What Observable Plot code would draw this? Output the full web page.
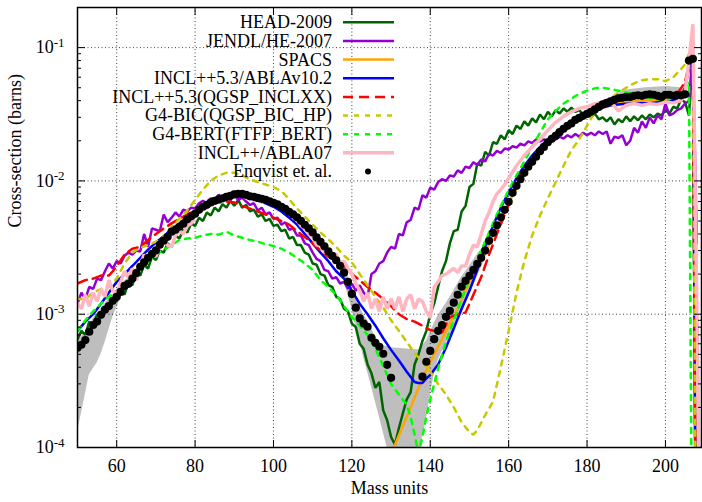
<!DOCTYPE html>
<html><head><meta charset="utf-8">
<script src="https://cdn.jsdelivr.net/npm/d3@7"></script>
<script src="https://cdn.jsdelivr.net/npm/@observablehq/plot@0.6"></script>
<style>
html,body{margin:0;padding:0;background:#fff;}
svg, svg text { font-family: 'Liberation Serif','DejaVu Serif','Times New Roman',serif !important; }
</style></head><body>
<script>
const FONT = "'Liberation Serif','DejaVu Serif','Times New Roman',serif";

// ---- tick values ----
const xTicks = [60, 80, 100, 120, 140, 160, 180, 200];
const yMajor = [1e-4, 1e-3, 1e-2, 1e-1];
const yMinor = [2e-4,3e-4,4e-4,5e-4,6e-4,7e-4,8e-4,9e-4,2e-3,3e-3,4e-3,5e-3,6e-3,7e-3,8e-3,9e-3,2e-2,3e-2,4e-2,5e-2,6e-2,7e-2,8e-2,9e-2];

// ---- Enqvist et al. (one point per mass unit) ----
const enqStartA = 50;
const enqValsA = [5.6e-4,5.9e-4,6.4e-4,7.4e-4,8.3e-4,8.8e-4,9.9e-4,1.08e-3,1.15e-3,1.26e-3,
1.35e-3,1.47e-3,1.63e-3,1.69e-3,1.85e-3,2.03e-3,2.27e-3,2.45e-3,2.65e-3,2.84e-3,
3.01e-3,3.32e-3,3.56e-3,3.81e-3,4.16e-3,4.3e-3,4.53e-3,4.77e-3,5.15e-3,5.42e-3,
5.66e-3,6.07e-3,6.4e-3,6.62e-3,6.9e-3,7.1e-3,7.28e-3,7.4e-3,7.6e-3,7.73e-3,
7.93e-3,8.0e-3,8.0e-3,7.86e-3,7.66e-3,7.6e-3,7.47e-3,7.34e-3,7.21e-3,7.03e-3,
6.85e-3,6.67e-3,6.39e-3,6.18e-3,5.86e-3,5.61e-3,5.33e-3,5.02e-3,4.69e-3,4.41e-3,
4.11e-3,3.77e-3,3.49e-3,3.23e-3,2.96e-3,2.74e-3,2.54e-3,2.31e-3,2.05e-3,1.75e-3,
1.42e-3,1.12e-3,9.3e-4,8.5e-4,8.05e-4,6.65e-4,6.1e-4,5.7e-4,5.05e-4,4.17e-4,
3.33e-4];
const enqStartB = 138;
const enqValsB = [3.4e-4,4.4e-4,5.3e-4,6.5e-4,7.5e-4,8.3e-4,9.55e-4,1.06e-3,1.22e-3,1.4e-3,
1.61e-3,1.78e-3,1.94e-3,2.15e-3,2.39e-3,2.65e-3,3.0e-3,3.55e-3,4.08e-3,4.64e-3,
5.33e-3,6.07e-3,6.97e-3,8.14e-3,9.18e-3,1.03e-2,1.15e-2,1.28e-2,1.39e-2,1.52e-2,
1.67e-2,1.8e-2,1.95e-2,2.07e-2,2.18e-2,2.32e-2,2.46e-2,2.59e-2,2.7e-2,2.87e-2,
2.97e-2,3.08e-2,3.18e-2,3.3e-2,3.44e-2,3.59e-2,3.76e-2,3.85e-2,3.96e-2,4.06e-2,
4.17e-2,4.2e-2,4.27e-2,4.27e-2,4.35e-2,4.39e-2,4.35e-2,4.43e-2,4.46e-2,4.43e-2,
4.35e-2,4.27e-2,4.43e-2,4.43e-2,4.35e-2,4.43e-2,4.39e-2,4.46e-2,8.0e-2,8.24e-2];

// ---- uncertainty band [mass, low, high] ----
const bandLeft = [[50,1.3e-4,6.4e-4],[51,1.8e-4,6.8e-4],[52,2.5e-4,7.3e-4],[53,3.5e-4,8.3e-4],[54,3.9e-4,9.3e-4],[55,4.3e-4,1.0e-3],[56,5.0e-4,1.1e-3],[57,6.1e-4,1.2e-3],[58,7.6e-4,1.3e-3],[59,9.5e-4,1.4e-3],[60,1.12e-3,1.5e-3],[61,1.3e-3,1.62e-3],[62,1.5e-3,1.78e-3],[63,1.6e-3,1.85e-3],[64,1.75e-3,2.0e-3],[65,1.95e-3,2.2e-3],[66,2.2e-3,2.4e-3]];
const bandMid = [[116,2.4e-3,2.7e-3],[117,2.1e-3,2.5e-3],[118,1.8e-3,2.25e-3],[119,1.4e-3,1.95e-3],[120,1.1e-3,1.6e-3],[121,8.0e-4,1.35e-3],[122,6.3e-4,1.15e-3],[123,4.7e-4,1.0e-3],[124,3.7e-4,9e-4],[125,2.85e-4,7.8e-4],[126,2.2e-4,6.8e-4],[127,1.7e-4,6.0e-4],[128,1.3e-4,5.8e-4],[129,1.0e-4,5.7e-4],[130,5e-5,5.6e-4],[137,5e-5,5.4e-4],[138,1.2e-4,5.8e-4],[139,1.6e-4,6.3e-4],[140,2.5e-4,7.3e-4],[141,3.5e-4,8.5e-4],[142,4.5e-4,9.8e-4],[144,6e-4,1.2e-3],[146,7.6e-4,1.5e-3],[148,1.0e-3,1.9e-3],[150,1.4e-3,2.3e-3],[152,1.9e-3,2.8e-3],[154,2.6e-3,3.3e-3],[156,3.6e-3,4.4e-3]];
const bandRight = [[186,3.8e-2,4.2e-2],[190,4.1e-2,4.8e-2],[195,4.2e-2,5.0e-2],[200,4.2e-2,5.1e-2],[204,4.2e-2,5.0e-2],[205,4.3e-2,4.8e-2]];

// ---- HEAD-2009 (one value per mass unit from 50) ----
const headStart = 50;
const headVals = [6.5e-4,7.5e-4,7.0e-4,8.8e-4,8.2e-4,1.0e-3,9.5e-4,1.15e-3,1.1e-3,1.3e-3,
1.25e-3,1.5e-3,1.4e-3,1.75e-3,1.65e-3,2.05e-3,1.95e-3,2.35e-3,2.2e-3,2.7e-3,
2.55e-3,3.0e-3,2.9e-3,3.4e-3,3.2e-3,3.9e-3,3.7e-3,4.3e-3,4.1e-3,4.8e-3,
4.6e-3,5.3e-3,5.0e-3,5.8e-3,5.5e-3,6.3e-3,5.9e-3,6.7e-3,6.3e-3,7.1e-3,
6.5e-3,7.2e-3,6.3e-3,6.6e-3,5.9e-3,6.1e-3,5.4e-3,5.6e-3,5.0e-3,5.2e-3,
4.6e-3,4.7e-3,4.2e-3,4.3e-3,3.7e-3,3.8e-3,3.3e-3,3.3e-3,2.9e-3,2.8e-3,
2.4e-3,2.35e-3,2.0e-3,1.95e-3,1.65e-3,1.6e-3,1.35e-3,1.3e-3,1.1e-3,1.05e-3,
8.5e-4,8.0e-4,6.0e-4,5.5e-4,4.2e-4,3.6e-4,2.8e-4,3.1e-4,1.9e-4,1.6e-4,
1.2e-4,1.05e-4,1.4e-4,1.8e-4,2.3e-4,2.6e-4,4.2e-4,5.0e-4,6.3e-4,7.5e-4,
1.0e-3,1.2e-3,1.6e-3,2.1e-3,2.5e-3,3.4e-3,4.2e-3,4.3e-3,5.9e-3,6.5e-3,
9.0e-3,9.5e-3,1.35e-2,1.3e-2,1.65e-2,1.55e-2,1.95e-2,1.9e-2,2.2e-2,2.05e-2,
2.4e-2,2.25e-2,2.6e-2,2.45e-2,2.8e-2,2.6e-2,2.95e-2,2.75e-2,3.15e-2,2.9e-2,
3.3e-2,3.05e-2,3.4e-2,3.2e-2,3.5e-2,3.3e-2,3.55e-2,3.3e-2,3.4e-2,3.15e-2,
3.3e-2,3.0e-2,3.2e-2,2.9e-2,3.0e-2,2.8e-2,3.0e-2,2.65e-2,2.9e-2,2.75e-2,
3.05e-2,2.8e-2,3.05e-2,2.85e-2,3.1e-2,2.9e-2,3.15e-2,3.0e-2,3.2e-2,3.1e-2,
3.4e-2,3.2e-2,3.6e-2,3.5e-2,4.1e-2,3.9e-2,3.1e-2,9.0e-2,1e-6];

// ---- JENDL/HE-2007 (one value per mass unit from 50) ----
const jendlStart = 50;
const jendlVals = [1.2e-3,1.45e-3,1.3e-3,1.6e-3,1.55e-3,1.85e-3,1.8e-3,2.1e-3,2.4e-3,2.2e-3,
2.5e-3,2.4e-3,2.75e-3,2.9e-3,2.8e-3,3.0e-3,2.95e-3,4.0e-3,3.2e-3,4.4e-3,
4.3e-3,4.2e-3,5.6e-3,4.9e-3,5.3e-3,5.8e-3,5.4e-3,6.1e-3,5.9e-3,6.3e-3,
6.2e-3,6.8e-3,7.1e-3,6.8e-3,7.4e-3,7.1e-3,7.9e-3,7.3e-3,7.6e-3,7.2e-3,
7.8e-3,7.2e-3,7.5e-3,7.0e-3,6.6e-3,6.8e-3,6.0e-3,6.3e-3,5.6e-3,5.8e-3,
5.2e-3,5.3e-3,4.7e-3,4.9e-3,4.3e-3,4.4e-3,3.9e-3,3.9e-3,3.4e-3,3.3e-3,
2.9e-3,2.6e-3,2.5e-3,2.15e-3,2.1e-3,1.85e-3,1.9e-3,1.7e-3,1.75e-3,1.55e-3,
1.7e-3,1.5e-3,1.65e-3,1.45e-3,1.35e-3,2.0e-3,2.1e-3,2.4e-3,2.5e-3,2.9e-3,
3.2e-3,3.1e-3,4.0e-3,3.9e-3,4.9e-3,5.1e-3,6.3e-3,6.1e-3,7.8e-3,7.5e-3,
8.9e-3,8.6e-3,9.8e-3,1.03e-2,1.0e-2,1.1e-2,1.08e-2,1.2e-2,1.15e-2,1.28e-2,
1.25e-2,1.38e-2,1.32e-2,1.45e-2,1.4e-2,1.6e-2,1.55e-2,1.68e-2,1.62e-2,1.75e-2,
1.72e-2,1.82e-2,1.78e-2,1.9e-2,1.85e-2,1.98e-2,1.92e-2,2.05e-2,1.98e-2,2.05e-2,
2.0e-2,2.1e-2,2.05e-2,2.15e-2,2.08e-2,2.2e-2,2.12e-2,2.25e-2,2.15e-2,2.3e-2,
2.2e-2,2.3e-2,2.2e-2,2.35e-2,2.25e-2,2.35e-2,1.9e-2,2.15e-2,2.1e-2,2.2e-2,
1.85e-2,2.0e-2,2.5e-2,2.3e-2,2.8e-2,2.5e-2,3.0e-2,2.7e-2,3.1e-2,2.9e-2,
3.8e-2,3.1e-2,3.2e-2,3.4e-2,3.5e-2,3.8e-2,4.0e-2,9.5e-2,3.4e-3];

// ---- SPACS [mass, value] ----
const spacs = [[129,6e-5],[131,1.05e-4],[133,1.45e-4],[135,2.0e-4],[137,2.8e-4],[139,3.8e-4],[141,5.0e-4],[143,6.5e-4],[145,8.5e-4],[147,1.1e-3],[149,1.5e-3],[151,2.0e-3],[153,2.6e-3],[155,3.4e-3],[157,4.4e-3],[159,5.9e-3],[161,7.8e-3],[163,1.0e-2],[165,1.25e-2],[167,1.5e-2],[169,1.8e-2],[171,2.1e-2],[173,2.35e-2],[175,2.6e-2],[177,2.85e-2],[179,3.05e-2],[181,3.25e-2],[183,3.45e-2],[185,3.6e-2],[187,3.75e-2],[189,3.85e-2],[191,3.95e-2],[193,4.0e-2],[195,4.05e-2],[197,4.05e-2],[199,4.05e-2],[201,4.1e-2],[203,4.2e-2],[205,5.0e-2],[206,7e-2],[207,1.0e-1],[208,1e-6]];

// ---- INCL++5.3/ABLAv10.2 ----
const inclAbla = [[50,7.5e-4],[52,8.8e-4],[54,1.0e-3],[56,1.2e-3],[58,1.45e-3],[60,1.75e-3],[62,2.0e-3],[64,2.3e-3],[66,2.65e-3],[68,3.05e-3],[70,3.45e-3],[72,3.85e-3],[74,4.35e-3],[76,4.8e-3],[78,5.4e-3],[80,6.0e-3],[82,6.5e-3],[84,7.0e-3],[86,7.3e-3],[88,7.5e-3],[90,7.6e-3],[92,7.6e-3],[94,7.4e-3],[96,7.1e-3],[98,6.8e-3],[100,6.4e-3],[102,5.9e-3],[104,5.3e-3],[106,4.7e-3],[108,4.0e-3],[110,3.4e-3],[112,2.9e-3],[114,2.5e-3],[116,2.1e-3],[118,1.85e-3],[120,1.5e-3],[122,1.2e-3],[124,1.0e-3],[126,8.2e-4],[128,6.6e-4],[130,5.4e-4],[132,4.5e-4],[134,3.7e-4],[136,3.1e-4],[137,3.05e-4],[138,3.05e-4],[139,3.3e-4],[140,3.5e-4],[142,4.2e-4],[144,5.6e-4],[146,7.8e-4],[148,1.1e-3],[150,1.5e-3],[152,2.15e-3],[154,3.2e-3],[156,4.6e-3],[158,6.3e-3],[160,8.2e-3],[162,1.05e-2],[164,1.3e-2],[166,1.55e-2],[168,1.8e-2],[170,2.05e-2],[172,2.3e-2],[174,2.55e-2],[176,2.8e-2],[178,3.0e-2],[180,3.2e-2],[182,3.4e-2],[184,3.55e-2],[186,3.7e-2],[188,3.75e-2],[190,3.8e-2],[192,3.8e-2],[194,3.85e-2],[196,3.85e-2],[198,3.9e-2],[200,3.9e-2],[202,4.0e-2],[204,4.3e-2],[205,5.0e-2],[206,7.0e-2],[207,1.0e-1],[208,1e-6]];

// ---- INCL++5.3(QGSP_INCLXX) ----
const inclQgsp = [[50,1.7e-3],[52,1.8e-3],[54,1.85e-3],[56,1.95e-3],[58,1.95e-3],[59,2.1e-3],[60,2.3e-3],[62,2.8e-3],[64,3.1e-3],[66,3.2e-3],[68,3.6e-3],[70,4.0e-3],[72,4.4e-3],[74,4.8e-3],[76,5.2e-3],[78,5.6e-3],[80,6.0e-3],[82,6.3e-3],[84,6.6e-3],[86,6.9e-3],[88,7.0e-3],[90,6.9e-3],[92,6.5e-3],[94,6.2e-3],[96,5.9e-3],[98,5.6e-3],[100,5.3e-3],[102,5.0e-3],[104,4.7e-3],[106,4.2e-3],[108,3.8e-3],[110,3.4e-3],[112,3.0e-3],[114,2.7e-3],[116,2.5e-3],[118,2.3e-3],[120,2.0e-3],[122,1.8e-3],[124,1.6e-3],[126,1.45e-3],[128,1.3e-3],[130,1.15e-3],[132,1.0e-3],[134,9.2e-4],[136,8.8e-4],[138,8.2e-4],[140,7.6e-4],[142,7.4e-4],[143,7.3e-4],[145,9.5e-4],[147,1.0e-3],[149,1.03e-3],[151,1.4e-3],[153,1.9e-3],[155,2.8e-3],[157,4.0e-3],[159,5.6e-3],[161,8.0e-3],[163,1.1e-2],[165,1.35e-2],[167,1.6e-2],[169,1.85e-2],[171,2.1e-2],[173,2.35e-2],[175,2.6e-2],[177,2.85e-2],[179,3.1e-2],[181,3.35e-2],[183,3.6e-2],[185,3.85e-2],[187,4.05e-2],[189,4.2e-2],[191,4.35e-2],[193,4.5e-2],[195,4.5e-2],[197,4.45e-2],[199,4.4e-2],[201,4.4e-2],[203,4.5e-2],[205,5.5e-2],[206,7.5e-2],[207,1.0e-1],[208,1e-6]];

// ---- G4-BIC(QGSP_BIC_HP) ----
const g4bic = [[50,1.3e-3],[52,1.3e-3],[54,1.45e-3],[56,1.55e-3],[58,1.6e-3],[60,1.85e-3],[62,2.4e-3],[64,2.9e-3],[66,3.15e-3],[68,3.3e-3],[70,3.5e-3],[72,3.8e-3],[74,4.5e-3],[76,5.2e-3],[78,6.0e-3],[80,7.2e-3],[82,8.6e-3],[84,1.0e-2],[86,1.1e-2],[88,1.15e-2],[90,1.15e-2],[92,1.1e-2],[94,1.03e-2],[96,9.8e-3],[98,9.4e-3],[100,9.0e-3],[102,8.4e-3],[104,7.3e-3],[106,6.2e-3],[108,5.4e-3],[110,4.7e-3],[112,4.1e-3],[114,3.65e-3],[116,3.2e-3],[118,2.75e-3],[120,2.45e-3],[122,2.0e-3],[124,1.65e-3],[126,1.35e-3],[128,1.12e-3],[130,9.0e-4],[132,7.5e-4],[134,6.2e-4],[136,5.1e-4],[138,4.4e-4],[140,3.7e-4],[142,3.0e-4],[144,2.5e-4],[146,2.0e-4],[148,1.55e-4],[150,1.3e-4],[151,1.25e-4],[152,1.35e-4],[154,1.75e-4],[156,2.2e-4],[158,4.0e-4],[160,7.5e-4],[162,1.45e-3],[164,2.5e-3],[166,3.9e-3],[168,5.5e-3],[170,7.4e-3],[172,9.8e-3],[174,1.3e-2],[176,1.7e-2],[178,2.05e-2],[180,2.6e-2],[182,3.3e-2],[184,3.8e-2],[186,4.15e-2],[188,4.6e-2],[190,5.0e-2],[192,5.4e-2],[194,5.7e-2],[196,5.8e-2],[198,5.8e-2],[200,5.6e-2],[202,6.0e-2],[204,6.9e-2],[205,7.5e-2],[206,9e-2],[207,1.1e-1],[208,1e-6]];

// ---- G4-BERT(FTFP_BERT) ----
const g4bert = [[50,7.5e-4],[52,9.0e-4],[54,1.05e-3],[56,1.2e-3],[58,1.35e-3],[60,1.5e-3],[62,1.7e-3],[64,1.95e-3],[66,2.2e-3],[68,2.5e-3],[70,2.8e-3],[72,3.05e-3],[74,3.3e-3],[76,3.6e-3],[78,3.7e-3],[80,3.75e-3],[82,3.9e-3],[84,4.0e-3],[86,3.95e-3],[88,4.15e-3],[90,3.9e-3],[92,3.75e-3],[94,3.6e-3],[96,3.5e-3],[98,3.35e-3],[100,3.25e-3],[102,3.1e-3],[104,2.9e-3],[106,2.65e-3],[108,2.4e-3],[110,2.15e-3],[112,1.8e-3],[114,1.6e-3],[116,1.4e-3],[118,1.15e-3],[120,9.5e-4],[122,8.2e-4],[124,7.0e-4],[126,5.5e-4],[128,4.1e-4],[130,3.0e-4],[132,2.5e-4],[134,2.1e-4],[135,1.7e-4],[136,1.25e-4],[137,9e-5],[138,1.2e-4],[139,1.7e-4],[140,2.3e-4],[142,3.9e-4],[144,6.2e-4],[146,9.0e-4],[148,1.3e-3],[150,1.85e-3],[152,2.6e-3],[154,3.5e-3],[156,4.8e-3],[158,6.5e-3],[160,8.5e-3],[162,1.1e-2],[164,1.4e-2],[166,1.8e-2],[168,2.3e-2],[170,2.9e-2],[172,3.35e-2],[174,3.8e-2],[176,4.15e-2],[178,4.5e-2],[180,4.75e-2],[182,4.95e-2],[184,5.0e-2],[186,4.9e-2],[188,4.75e-2],[190,4.6e-2],[192,4.5e-2],[194,4.4e-2],[196,4.2e-2],[198,4.1e-2],[200,4.0e-2],[202,4.2e-2],[204,4.5e-2],[206,5.5e-2],[207,1e-6]];

// ---- INCL++/ABLA07 (per mass unit 50..160, then sparse) ----
const abla07Start = 50;
const abla07Vals = [1.2e-3,1.1e-3,1.4e-3,1.15e-3,1.45e-3,1.25e-3,1.55e-3,1.35e-3,1.8e-3,1.5e-3,
1.4e-3,1.75e-3,2.1e-3,1.9e-3,2.2e-3,1.8e-3,2.3e-3,2.8e-3,2.5e-3,2.9e-3,
2.7e-3,3.2e-3,3.55e-3,3.3e-3,3.2e-3,3.9e-3,4.2e-3,4.0e-3,4.6e-3,4.8e-3,
5.5e-3,5.9e-3,6.1e-3,6.3e-3,6.9e-3,7.0e-3,7.5e-3,7.2e-3,8.0e-3,7.6e-3,
8.4e-3,7.7e-3,7.9e-3,7.4e-3,7.8e-3,7.1e-3,7.5e-3,6.9e-3,7.2e-3,6.8e-3,
7.1e-3,6.5e-3,6.6e-3,6.0e-3,5.9e-3,5.3e-3,5.1e-3,4.6e-3,4.4e-3,4.0e-3,
3.8e-3,3.3e-3,3.3e-3,2.9e-3,3.0e-3,2.7e-3,2.85e-3,2.4e-3,2.5e-3,2.2e-3,
2.0e-3,1.7e-3,1.5e-3,1.25e-3,1.45e-3,1.1e-3,1.3e-3,1.05e-3,1.35e-3,1.1e-3,
1.3e-3,1.1e-3,1.35e-3,1.05e-3,1.3e-3,1.4e-3,1.1e-3,1.3e-3,1.25e-3,1.05e-3,
9.4e-4,1.6e-3,1.75e-3,1.95e-3,2.0e-3,2.1e-3,2.2e-3,2.05e-3,2.3e-3,2.3e-3,
2.8e-3,3.3e-3,3.2e-3,4.0e-3,5.0e-3,5.8e-3,7.0e-3,8.0e-3,8.6e-3,9.4e-3,1.05e-2];
const abla07Tail = [[162,1.3e-2],[164,1.55e-2],[166,1.8e-2],[168,2.05e-2],[170,2.4e-2],[172,2.75e-2],[174,3.05e-2],[176,3.3e-2],[178,3.5e-2],[180,3.6e-2],[182,3.8e-2],[184,3.9e-2],[186,3.95e-2],[188,3.35e-2],[190,3.7e-2],[192,3.8e-2],[194,3.7e-2],[196,3.8e-2],[198,3.75e-2],[200,3.9e-2],[202,3.85e-2],[204,4.0e-2],[205,4.5e-2],[206,8e-2],[207,1.5e-1],[209,1e-5]];

// ---- legend ----
const seriesNames = ["HEAD-2009","JENDL/HE-2007","SPACS","INCL++5.3/ABLAv10.2","INCL++5.3(QGSP_INCLXX)","G4-BIC(QGSP_BIC_HP)","G4-BERT(FTFP_BERT)","INCL++/ABLA07","Enqvist et. al."];
const seriesColors = ["#006400","#9400d3","#ffa500","#0000ff","#ff0000","#c8c800","#00ff00","#ffb6c1","#000000"];
const seriesDash = [null,null,null,null,"10,6","5,6","5,6",null,null];
const seriesWidth = [2.5,2.5,2.5,2.5,2.5,2.5,2.5,3.5,0];

// ---- table building ----
const perUnit = (start, vals) => vals.map((v, i) => ({m: start + i, v}));
const pairs = (arr) => arr.map(([m, v]) => ({m, v}));
const bandRows = [
  ...bandLeft.map(([m, lo, hi]) => ({m, lo, hi, seg: "L"})),
  ...bandMid.map(([m, lo, hi]) => ({m, lo, hi, seg: "M"})),
  ...bandRight.map(([m, lo, hi]) => ({m, lo, hi, seg: "R"}))
];
const lineData = [
  perUnit(headStart, headVals),
  perUnit(jendlStart, jendlVals),
  pairs(spacs),
  pairs(inclAbla),
  pairs(inclQgsp),
  pairs(g4bic),
  pairs(g4bert),
  [...perUnit(abla07Start, abla07Vals), ...pairs(abla07Tail)]
];
const enq = [...perUnit(enqStartA, enqValsA), ...perUnit(enqStartB, enqValsB)];

const lineMarks = lineData.map((d, i) => Plot.line(d, {
  x: "m", y: "v", stroke: seriesColors[i], strokeWidth: seriesWidth[i],
  strokeDasharray: seriesDash[i] || undefined, strokeLinejoin: "miter", clip: true
}));

const chart = Plot.plot({
  width: 702, height: 502,
  marginLeft: 77, marginRight: 1, marginTop: 7, marginBottom: 55,
  x: {domain: [50, 209.2]},
  y: {type: "log", domain: [1e-4, 0.2]},
  style: {fontFamily: FONT, fontSize: "18px", background: "white", color: "black"},
  marks: [
    Plot.areaY(bandRows, {x: "m", y1: "lo", y2: "hi", z: "seg", fill: "#bebebe", clip: true}),
    Plot.gridX({ticks: xTicks, stroke: "black", strokeOpacity: 0.75, strokeDasharray: "1,2.5"}),
    Plot.gridY({ticks: [1e-3, 1e-2, 1e-1], stroke: "black", strokeOpacity: 0.75, strokeDasharray: "1,2.5"}),
    ...lineMarks,
    Plot.dot(enq, {x: "m", y: "v", r: 4.1, fill: "black", clip: true}),
    Plot.frame({stroke: "black", strokeWidth: 1.5}),
    Plot.axisX({ticks: xTicks, anchor: "bottom", tickSize: -7, fill: "none", label: null}),
    Plot.axisX({ticks: xTicks, anchor: "top", tickSize: -7, fill: "none", label: null}),
    Plot.axisX({ticks: xTicks, anchor: "bottom", tickSize: 0, tickPadding: 12, label: null, fontSize: 18, fontVariant: "normal"}),
    Plot.axisY({ticks: yMajor, anchor: "left", tickSize: -8, fill: "none", label: null}),
    Plot.axisY({ticks: yMinor, anchor: "left", tickSize: -4, fill: "none", label: null}),
    Plot.axisY({ticks: yMajor, anchor: "right", tickSize: -8, fill: "none", label: null}),
    Plot.axisY({ticks: yMinor, anchor: "right", tickSize: -4, fill: "none", label: null}),
    Plot.axisY({ticks: yMajor, anchor: "left", tickSize: 0, tickPadding: 13, label: null, fontSize: 18, fontVariant: "normal",
      tickFormat: d => "10^" + Math.round(Math.log10(d))}),
    Plot.text(["Mass units"], {text: d => d, frameAnchor: "bottom", dy: 46, fontSize: 18}),
    Plot.text(["Cross-section (barns)"], {text: d => d, frameAnchor: "left", dx: -62, rotate: -90, fontSize: 18})
  ]
});

// serif font on every text element (inline, so it wins over the library's defaults)
d3.select(chart).attr("font-family", FONT).style("font-family", FONT);
d3.select(chart).selectAll("g, text").attr("font-family", FONT).style("font-family", FONT);

// superscript exponents on the y tick labels
d3.select(chart).selectAll('g[aria-label="y-axis tick label"] text').each(function() {
  const t = this.textContent;
  if (!t.includes("^")) return;
  const [b, e] = t.split("^");
  const s = d3.select(this);
  s.text(b);
  s.append("tspan").attr("dy", "-0.5em").attr("font-size", "13px").text(e);
});

// legend inside the plot, top right of the y axis
const lg = d3.select(chart).append("g").attr("font-family", FONT).style("font-family", FONT).attr("font-size", 18).attr("fill", "black");
seriesNames.forEach((name, i) => {
  const y = 22.3 + i * 18.65;
  lg.append("text").attr("x", 332).attr("y", y).attr("dy", "0.33em").attr("text-anchor", "end").text(name);
  if (seriesWidth[i] === 0) {
    lg.append("circle").attr("cx", 368).attr("cy", y).attr("r", 3).attr("fill", seriesColors[i]);
  } else {
    lg.append("line").attr("x1", 343).attr("x2", 394).attr("y1", y).attr("y2", y)
      .attr("stroke", seriesColors[i]).attr("stroke-width", seriesWidth[i])
      .attr("stroke-dasharray", seriesDash[i] || null);
  }
});

document.body.appendChild(chart);
</script>
</body></html>
